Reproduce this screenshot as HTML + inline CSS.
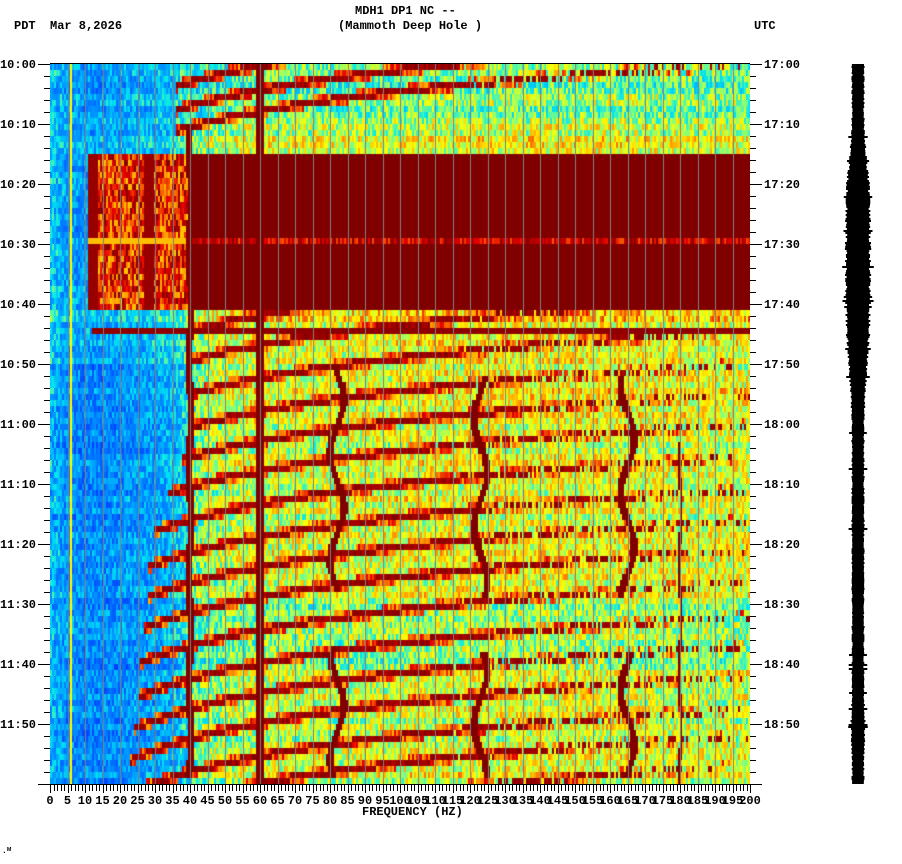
<!DOCTYPE html>
<html><head><meta charset="utf-8">
<style>
html,body{margin:0;padding:0;background:#fff;}
#root{position:relative;width:902px;height:864px;overflow:hidden;font-family:"Liberation Mono",monospace;font-weight:bold;font-size:12px;color:#000;}
.t{position:absolute;white-space:pre;line-height:12px;}
canvas{position:absolute;left:50px;top:64px;}
svg{position:absolute;left:0;top:0;}
</style></head>
<body>
<div id="root">
<div class="t" style="left:355px;top:5px">MDH1 DP1 NC --</div>
<div class="t" style="left:338px;top:20px">(Mammoth Deep Hole )</div>
<div class="t" style="left:14px;top:20px">PDT  Mar 8,2026</div>
<div class="t" style="left:754px;top:20px">UTC</div>
<canvas id="spec" width="700" height="720"></canvas>
<svg id="ax" width="902" height="864"></svg>
<div class="t" style="left:362px;top:806px">FREQUENCY (HZ)</div>
<div class="t" style="left:2px;top:846px;font-size:8px">.ᴹ</div>
</div>
<script>
// ---- data ----
const leftTimeLabels = ["10:00","10:10","10:20","10:30","10:40","10:50","11:00","11:10","11:20","11:30","11:40","11:50"];
const rightTimeLabels = ["17:00","17:10","17:20","17:30","17:40","17:50","18:00","18:10","18:20","18:30","18:40","18:50"];
const freqTicks = [0,5,10,15,20,25,30,35,40,45,50,55,60,65,70,75,80,85,90,95,100,105,110,115,120,125,130,135,140,145,150,155,160,165,170,175,180,185,190,195,200];
// background level per 5 Hz band (0..1 colormap scale)
const bandLevel = [0.32,0.24,0.22,0.22,0.24,0.26,0.28,0.32,0.42,0.5,0.52,0.54,0.56,0.55,0.55,0.55,0.55,0.55,0.55,0.55,0.56,0.57,0.57,0.57,0.58,0.58,0.58,0.58,0.58,0.58,0.58,0.58,0.58,0.58,0.57,0.57,0.57,0.56,0.56,0.56,0.56];
// per 10-minute segment offset for high (>=40Hz) and low (<40Hz) bands
const segOffsetHigh = [-0.08,0.03,0,0,0.08,0.05,0.03,0.03,0.02,-0.06,0.0,0.02];
const segOffsetLow = [0.0,0.03,0,0,0.05,-0.04,-0.05,-0.04,-0.04,-0.04,-0.05,-0.04];
// saturation episode (minutes from 10:00)
const burstStart = 15, burstEnd = 41, burstMinFreq = 11;
const stripeMinute = 44;
// sweeping harmonic curves: minute at 20 Hz, and lowest visible frequency
const curveMinute = [7.5,11.5,15,49,54,59.5,65,70,75,80.5,86,91,96,101.5,107,112,117,122.5,127,132,137];
const curveMinFreq = [36,36,36,40,40,40,40,38,34,30,28,28,27,26,25,24,23,22,21,21,20];
// wiggly vertical lines: centre freq, start minute, end minute
const vLineFreq = [40,82,82,123,123,165,165,180];
const vLineStart = [10,50,98,52,98,52,98,63];
const vLineEnd = [118,87,118,88,118,88,118,120];
// seismogram amplitude (half-width px) per 5 minutes
const traceAmp = [6,6,6,8,11,12,12,12,12,11,9,7,6,6,6,6,6,6,6,6,6,6,7,6,6];

// ---- drawing ----
const W=700,H=720,X0=50,Y0=64,K=6.5;
const xOf=f=>X0+f*3.5, yOf=m=>Y0+m*6;
function hash(a,b){let h=(a*374761393+b*668265263)|0;h=(h^(h>>>13))*1274126177|0;return ((h^(h>>>16))>>>0)/4294967296;}
function jet(v){v=Math.max(0,Math.min(1,v));
  const stops=[[0,[0,64,255]],[0.25,[0,160,255]],[0.38,[0,230,240]],[0.5,[128,255,128]],[0.62,[255,255,0]],[0.75,[255,150,0]],[0.87,[230,0,0]],[1,[128,0,0]]];
  for(let i=1;i<stops.length;i++){if(v<=stops[i][0]){const a=stops[i-1],b=stops[i],t=(v-a[0])/(b[0]-a[0]);return a[1].map((c,k)=>Math.round(c+(b[1][k]-c)*t));}}return [128,0,0];}
const ctx=document.getElementById('spec').getContext('2d');
const img=ctx.createImageData(W,H);
const COLS=350,ROWS=120;
for(let r=0;r<ROWS;r++){
  const seg=Math.min(11,Math.floor(r/10));
  for(let c=0;c<COLS;c++){
    const f=(c+0.5)*200/COLS;
    const bi=Math.min(39,Math.floor(f/5)),bt=(f-bi*5)/5;
    let v=bandLevel[bi]*(1-bt)+bandLevel[bi+1]*bt;
    v+= (f>=40?segOffsetHigh[seg]:segOffsetLow[seg]);
    v+= (hash(c,r)-0.5)*0.3+(hash(r,7)-0.5)*0.1;
    if(r>=burstStart&&r<burstEnd&&f>=burstMinFreq){
      if(f>=40) v=1; else if(f<14||(f>27&&f<30)) v=0.97; else v=0.68+hash(c,r+900)*0.32;
      if(r===29) v=(f<40?0.7:0.8+hash(c,5)*0.2);
    }
    if(r===stripeMinute&&f>=12) v=0.98;
    const vis=f<110?1:1-(f-110)/110;
    for(let i=0;i<curveMinute.length;i++){
      if(f<curveMinFreq[i]) continue;
      const tc=curveMinute[i]-K*Math.log(f/20);
      const d=Math.abs(r+0.5-tc);
      if(hash(c,i*31+r)>vis) continue;
      if(d<0.5) v=Math.max(v,0.93+hash(c,r+3)*0.07); else if(d<0.9) v=Math.max(v,0.7+hash(c,r+5)*0.2);
    }
    for(let i=0;i<vLineFreq.length;i++){
      if(r<vLineStart[i]||r>vLineEnd[i]) continue;
      const fc=vLineFreq[i]+ (i===0||i===7?0.4:2)*Math.sin(r*0.35+i);
      if(Math.abs(f-fc)<(i===7?0.4:1.0)) v=1;
    }
    if(Math.abs(f-60)<1.1) v=1;
    if(f>5.8&&f<6.4) v=0.62;
    const col=jet(v);
    for(let dy=0;dy<6;dy++)for(let dx=0;dx<2;dx++){const p=((r*6+dy)*W+c*2+dx)*4;img.data[p]=col[0];img.data[p+1]=col[1];img.data[p+2]=col[2];img.data[p+3]=255;}
  }
}
ctx.putImageData(img,0,0);
ctx.fillStyle='#808080';
for(let f=5;f<200;f+=5){ctx.fillRect(Math.round(f*3.5),0,1,H);}

const svg=document.getElementById('ax');const NS='http://www.w3.org/2000/svg';
function el(tag,attrs){const e=document.createElementNS(NS,tag);for(const k in attrs)e.setAttribute(k,attrs[k]);svg.appendChild(e);return e;}
function line(x1,y1,x2,y2){return el('line',{x1,y1,x2,y2,stroke:'#000','stroke-width':1});}
function txt(x,y,s,anchor){const t=el('text',{x,y,'text-anchor':anchor,'font-family':'Liberation Mono, monospace','font-weight':'bold','font-size':12});t.textContent=s;return t;}
let e=line(X0,Y0-0.5,X0+W,Y0-0.5);
e=line(X0,Y0+H+0.5,X0+W,Y0+H+0.5);
for(let m=0;m<=120;m+=2){
  const y=yOf(m)+0.5,maj=m%10===0;
  line(maj?38:44,y,X0,y);line(X0+W,y,X0+W+(maj?12:6),y);
}
leftTimeLabels.forEach((s,i)=>{const t=txt(36,yOf(i*10)+4,s,'end');});
rightTimeLabels.forEach((s,i)=>{const t=txt(764,yOf(i*10)+4,s,'start');});
for(let f=0;f<=200;f++){const x=Math.round(xOf(f))+0.5;line(x,Y0+H,x,Y0+H+(f%5===0?9:7));}
freqTicks.forEach(f=>{const t=txt(xOf(f),804,String(f),'middle');});
const g=el('g',{});
for(let y=0;y<H;y+=2){
  const m=y/6,seg=Math.min(traceAmp.length-2,Math.floor(m/5)),t=(m-seg*5)/5;
  const a=(traceAmp[seg]*(1-t)+traceAmp[seg+1]*t)*(0.9+hash(y,3)*0.2)+(hash(y,11)>0.97?3:0);
  const r=document.createElementNS(NS,'rect');
  r.setAttribute('x',(858-a).toFixed(1));r.setAttribute('y',Y0+y);r.setAttribute('width',(2*a).toFixed(1));r.setAttribute('height',2);r.setAttribute('fill','#000');
  g.appendChild(r);
}
svg.appendChild(g);
</script>
</body></html>
